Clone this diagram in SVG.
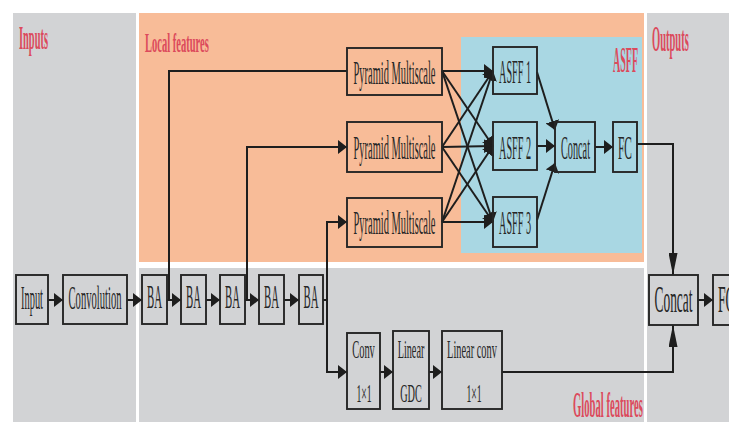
<svg xmlns="http://www.w3.org/2000/svg" width="729" height="425" viewBox="0 0 729 425">
<defs>
<style>
.box{fill:none;stroke:#262626;stroke-width:1.9}
.t{font-family:"Liberation Serif","Times New Roman",serif;fill:#262626;text-anchor:middle}
.lab{font-family:"Liberation Serif","Times New Roman",serif;fill:#dc4a5c;font-weight:bold}
.c{fill:none;stroke:#1e1e1e;stroke-width:2}
.ah{marker-end:url(#ah)}
.av{marker-end:url(#av)}
</style>
<marker id="ah" markerWidth="10" markerHeight="14" refX="9" refY="7" orient="auto" markerUnits="userSpaceOnUse"><path d="M0,0 L9,7 L0,14 z" fill="#1e1e1e"/></marker>
<marker id="av" markerWidth="22" markerHeight="9" refX="22" refY="4.5" orient="auto" markerUnits="userSpaceOnUse"><path d="M0,0 L22,4.5 L0,9 z" fill="#1e1e1e"/></marker>
</defs>
<rect x="0" y="0" width="729" height="425" fill="#ffffff"/>
<g id="panels">
<rect x="13" y="13" width="123" height="409" fill="#d2d3d5"/>
<rect x="139" y="13" width="505" height="249" fill="#f8bc98"/>
<rect x="139" y="268" width="505" height="154" fill="#d2d3d5"/>
<rect x="647" y="13" width="82" height="409" fill="#d2d3d5"/>
<rect x="461" y="37" width="181" height="216" fill="#a9d7e3"/>
</g>
<g id="labels">
<text class="lab" transform="translate(19,49) scale(0.316,1)" font-size="33">Inputs</text>
<text class="lab" transform="translate(145,52) scale(0.376,1)" font-size="28">Local features</text>
<text class="lab" transform="translate(613,72) scale(0.286,1)" font-size="35">ASFF</text>
<text class="lab" transform="translate(652,51) scale(0.30,1)" font-size="35">Outputs</text>
<text class="lab" transform="translate(573,417) scale(0.304,1)" font-size="35">Global features</text>
</g>
<g id="connectors">
<path class="c ah" d="M48,300 H63"/>
<path class="c ah" d="M127,300 H142"/>
<path class="c ah" d="M167,300 H181"/>
<path class="c ah" d="M206,300 H220"/>
<path class="c ah" d="M245,300 H259"/>
<path class="c ah" d="M284,300 H299"/>
<path class="c" d="M169,300 V71 H347"/>
<path class="c ah" d="M247,300 V147 H347"/>
<path class="c ah" d="M323,300 H327 V222 H347"/>
<path class="c ah" d="M327,300 V372 H347"/>
<path class="c ah" d="M442,71 L493,71"/>
<path class="c ah" d="M442,71 L493,146"/>
<path class="c ah" d="M442,71 L493,222"/>
<path class="c ah" d="M442,147 L493,71"/>
<path class="c ah" d="M442,147 L493,146"/>
<path class="c ah" d="M442,147 L493,222"/>
<path class="c ah" d="M442,222 L493,71"/>
<path class="c ah" d="M442,222 L493,146"/>
<path class="c ah" d="M442,222 L493,222"/>
<path class="c ah" d="M537,72 L555,130"/>
<path class="c ah" d="M537,146 L555,146"/>
<path class="c ah" d="M537,220 L555,163"/>
<path class="c ah" d="M595,147 H613"/>
<path class="c av" d="M637,144 H673 V275"/>
<path class="c ah" d="M380,372 H393"/>
<path class="c ah" d="M429,372 H442"/>
<path class="c av" d="M502,372 H673 V325"/>
<path class="c ah" d="M698,300 H713"/>
</g>
<g id="input"><rect class="box" x="16" y="275" width="32" height="49"/><text class="t" transform="translate(32,309) scale(0.315,1)" font-size="33">Input</text></g>
<g id="convolution"><rect class="box" x="63" y="275" width="64" height="49"/><text class="t" transform="translate(95,309) scale(0.321,1)" font-size="33">Convolution</text></g>
<g id="ba1"><rect class="box" x="142" y="275" width="25" height="49"/><text class="t" transform="translate(154.5,308) scale(0.327,1)" font-size="33">BA</text></g>
<g id="ba2"><rect class="box" x="181" y="275" width="25" height="49"/><text class="t" transform="translate(193.5,308) scale(0.327,1)" font-size="33">BA</text></g>
<g id="ba3"><rect class="box" x="220" y="275" width="25" height="49"/><text class="t" transform="translate(232.5,308) scale(0.327,1)" font-size="33">BA</text></g>
<g id="ba4"><rect class="box" x="259" y="275" width="25" height="49"/><text class="t" transform="translate(271.5,308) scale(0.327,1)" font-size="33">BA</text></g>
<g id="ba5"><rect class="box" x="299" y="275" width="24" height="49"/><text class="t" transform="translate(311,308) scale(0.327,1)" font-size="33">BA</text></g>
<g id="pyramid1"><rect class="box" x="347" y="48" width="95" height="47"/><text class="t" transform="translate(394.5,84) scale(0.307,1)" font-size="34">Pyramid Multiscale</text></g>
<g id="pyramid2"><rect class="box" x="347" y="122" width="95" height="50"/><text class="t" transform="translate(394.5,159) scale(0.307,1)" font-size="34">Pyramid Multiscale</text></g>
<g id="pyramid3"><rect class="box" x="347" y="198" width="95" height="49"/><text class="t" transform="translate(394.5,234) scale(0.307,1)" font-size="34">Pyramid Multiscale</text></g>
<g id="asff1"><rect class="box" x="493" y="47" width="44" height="47"/><text class="t" transform="translate(515,83) scale(0.299,1)" font-size="34">ASFF 1</text></g>
<g id="asff2"><rect class="box" x="493" y="122" width="44" height="48"/><text class="t" transform="translate(515,159) scale(0.299,1)" font-size="34">ASFF 2</text></g>
<g id="asff3"><rect class="box" x="493" y="197" width="44" height="50"/><text class="t" transform="translate(515,234) scale(0.299,1)" font-size="34">ASFF 3</text></g>
<g id="concat-asff"><rect class="box" x="555" y="122" width="40" height="50"/><text class="t" transform="translate(575.5,159) scale(0.301,1)" font-size="34">Concat</text></g>
<g id="fc-asff"><rect class="box" x="613" y="122" width="24" height="50"/><text class="t" transform="translate(625,159) scale(0.337,1)" font-size="34">FC</text></g>
<g id="conv1x1"><rect class="box" x="347" y="333" width="33" height="76"/><text class="t" transform="translate(363.5,358) scale(0.42,1)" font-size="25">Conv</text><text class="t" transform="translate(364,402) scale(0.39,1)" font-size="25">1×1</text></g>
<g id="linear-gdc"><rect class="box" x="393" y="331" width="36" height="78"/><text class="t" transform="translate(411,358) scale(0.41,1)" font-size="25">Linear</text><text class="t" transform="translate(411,402) scale(0.41,1)" font-size="25">GDC</text></g>
<g id="linear-conv"><rect class="box" x="442" y="331" width="60" height="78"/><text class="t" transform="translate(472,358) scale(0.415,1)" font-size="25">Linear conv</text><text class="t" transform="translate(474,402) scale(0.39,1)" font-size="25">1×1</text></g>
<g id="concat-out"><rect class="box" x="649" y="275" width="49" height="50"/><text class="t" transform="translate(673.5,312) scale(0.353,1)" font-size="38">Concat</text></g>
<g id="fc-out"><rect class="box" x="713" y="275" width="40" height="50"/><text class="t" transform="translate(718,312) scale(0.36,1)" font-size="38" style="text-anchor:start">FC</text></g>
</svg>
